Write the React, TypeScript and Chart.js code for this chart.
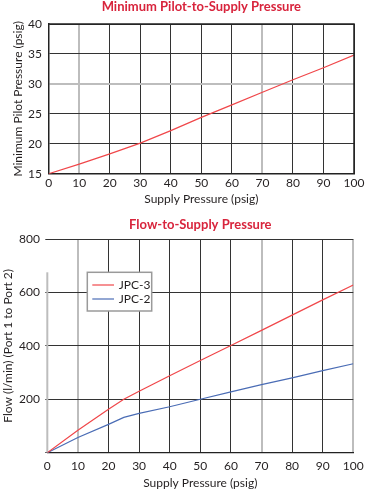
import React, { useEffect, useRef } from "react";
import { Chart, registerables } from "chart.js";
Chart.register(...registerables);

// ---- data ----
const supplyPressure = [0, 10, 20, 30, 40, 50, 60, 70, 80, 90, 100];
const minPilotPressure = [15, 16.6, 18.3, 20.1, 22.2, 24.4, 26.5, 28.6, 30.7, 32.7, 34.8];
const flowSupply = [0, 10, 20, 25, 30, 40, 50, 60, 70, 80, 90, 100];
const flowJPC3 = [0, 84, 163, 200, 230, 288, 345, 401, 458, 515, 572, 628];
const flowJPC2 = [0, 57, 106, 132, 147, 172, 200, 228, 255, 280, 307, 333];
const seriesLabels = ["JPC-3", "JPC-2"];
const topTitle = "Minimum Pilot-to-Supply Pressure";
const bottomTitle = "Flow-to-Supply Pressure";
const xAxisTitle = "Supply Pressure (psig)";
const topYTitle = "Minimum Pilot Pressure (psig)";
const bottomYTitle = "Flow (l/min) (Port 1 to Port 2)";
const topGrayX = [10, 70];
const topGrayY = [30];
const bottomGrayX = [10, 70, 100];

const FONT = "Lato, 'Open Sans', sans-serif";
const RED_TITLE = "#d8243c";
const RED = "#f0474a";
const BLUE = "#4a6cb5";
const DARK = "#333333";
const GRAY = "#bdbdbd";
const TEXT = "#231f20";

Chart.defaults.font.family = FONT;
Chart.defaults.color = TEXT;

const legendPlugin = {
  id: "boxLegend",
  afterDatasetsDraw(chart: any) {
    const { ctx, chartArea } = chart;
    const x0 = chartArea.left + 40;
    const y0 = chartArea.top + 33.3;
    const w = 64.4;
    const h = 38.7;
    ctx.save();
    ctx.fillStyle = "#fff";
    ctx.fillRect(x0, y0, w, h);
    ctx.strokeStyle = "#9a9a9a";
    ctx.lineWidth = 1.5;
    ctx.strokeRect(x0, y0, w, h);
    chart.data.datasets.forEach((ds: any, i: number) => {
      const y = y0 + 12.7 + i * 14;
      ctx.strokeStyle = ds.borderColor;
      ctx.lineWidth = 1.2;
      ctx.beginPath();
      ctx.moveTo(x0 + 5, y);
      ctx.lineTo(x0 + 26.7, y);
      ctx.stroke();
      ctx.fillStyle = TEXT;
      ctx.font = `12px ${FONT}`;
      ctx.textBaseline = "middle";
      ctx.textAlign = "left";
      ctx.fillText(ds.label, x0 + 31.5, y);
    });
    ctx.restore();
  },
};

const partialAxisPlugin = {
  id: "partialAxis",
  beforeDatasetsDraw(chart: any) {
    const { ctx, scales } = chart;
    const x = scales.x.getPixelForValue(0);
    const yTop = chart.chartArea.top + 33.3;
    const yBottom = scales.y.getPixelForValue(0);
    ctx.save();
    ctx.strokeStyle = GRAY;
    ctx.lineWidth = 2;
    ctx.beginPath();
    ctx.moveTo(x, yTop);
    ctx.lineTo(x, yBottom);
    ctx.stroke();
    ctx.restore();
  },
};

function TopChart() {
  const ref = useRef<HTMLCanvasElement>(null);
  useEffect(() => {
    const chart = new Chart(ref.current!, {
      type: "line",
      data: {
        datasets: [
          {
            label: "Minimum Pilot Pressure",
            data: supplyPressure.map((x, i) => ({ x, y: minPilotPressure[i] })),
            borderColor: RED,
            borderWidth: 1.2,
            pointRadius: 0,
            fill: false,
          },
        ],
      },
      options: {
        animation: false,
        responsive: false,
        devicePixelRatio: 1,
        layout: { padding: { left: 0, right: 16, top: 0, bottom: 0 } },
        plugins: {
          legend: { display: false },
          tooltip: { enabled: false },
          title: {
            display: true,
            text: topTitle,
            color: RED_TITLE,
            fullSize: false,
            font: { size: 13, weight: "bold", lineHeight: 1 },
            padding: { top: 0, bottom: 11 },
          },
        },
        scales: {
          x: {
            type: "linear",
            min: 0,
            max: 100,
            afterFit: (s: any) => {
              s.height = 31.3;
            },
            ticks: { stepSize: 10, padding: 2, font: { size: 12 }, color: TEXT, maxRotation: 0 },
            grid: {
              drawTicks: false,
              color: (c: any) => (c.tick && topGrayX.includes(c.tick.value) ? GRAY : DARK),
              lineWidth: (c: any) => (c.tick && topGrayX.includes(c.tick.value) ? 2 : 1),
            },
            border: { display: true, color: "#222", width: 1.5 },
            title: {
              display: true,
              text: xAxisTitle,
              font: { size: 12, lineHeight: 1 },
              padding: { top: 0, bottom: 0 },
              color: TEXT,
            },
          },
          y: {
            min: 15,
            max: 40,
            afterFit: (s: any) => {
              s.width = 48.7;
            },
            ticks: { stepSize: 5, padding: 6.7, font: { size: 12 }, color: TEXT },
            grid: {
              drawTicks: false,
              color: (c: any) => (c.tick && topGrayY.includes(c.tick.value) ? GRAY : DARK),
              lineWidth: (c: any) => (c.tick && topGrayY.includes(c.tick.value) ? 2 : 1),
            },
            border: { display: true, color: "#222", width: 1.5 },
            title: {
              display: true,
              text: topYTitle,
              font: { size: 12 },
              padding: { top: 10.8, bottom: 0 },
              color: TEXT,
            },
          },
        },
      },
      plugins: [
        {
          id: "topBorder",
          afterDraw(chart: any) {
            const { ctx, chartArea } = chart;
            ctx.save();
            ctx.strokeStyle = "#222";
            ctx.lineWidth = 1.5;
            ctx.beginPath();
            ctx.moveTo(chartArea.left, chartArea.top);
            ctx.lineTo(chartArea.right, chartArea.top);
            ctx.lineTo(chartArea.right, chartArea.bottom);
            ctx.stroke();
            ctx.restore();
          },
        },
      ],
    } as any);
    return () => chart.destroy();
  }, []);
  return <canvas ref={ref} width={370} height={205} style={{ display: "block" }} />;
}

function BottomChart() {
  const ref = useRef<HTMLCanvasElement>(null);
  useEffect(() => {
    const chart = new Chart(ref.current!, {
      type: "line",
      data: {
        datasets: [
          {
            label: seriesLabels[0],
            data: flowSupply.map((x, i) => ({ x, y: flowJPC3[i] })),
            borderColor: RED,
            borderWidth: 1.2,
            pointRadius: 0,
            fill: false,
          },
          {
            label: seriesLabels[1],
            data: flowSupply.map((x, i) => ({ x, y: flowJPC2[i] })),
            borderColor: BLUE,
            borderWidth: 1.2,
            pointRadius: 0,
            fill: false,
          },
        ],
      },
      options: {
        animation: false,
        responsive: false,
        devicePixelRatio: 1,
        layout: { padding: { left: 0, right: 16.7, top: 0, bottom: 0 } },
        plugins: {
          legend: { display: false },
          tooltip: { enabled: false },
          title: {
            display: true,
            text: bottomTitle,
            color: RED_TITLE,
            fullSize: false,
            font: { size: 13, weight: "bold", lineHeight: 1 },
            padding: { top: 13.2, bottom: 7.8 },
          },
        },
        scales: {
          x: {
            type: "linear",
            min: 0,
            max: 100,
            afterFit: (s: any) => {
              s.height = 37.3;
            },
            ticks: { stepSize: 10, padding: 6, font: { size: 12 }, color: TEXT, maxRotation: 0 },
            grid: {
              drawTicks: false,
              color: (c: any) =>
                c.tick && c.tick.value === 0
                  ? "rgba(0,0,0,0)"
                  : c.tick && bottomGrayX.includes(c.tick.value)
                  ? GRAY
                  : DARK,
              lineWidth: (c: any) => (c.tick && bottomGrayX.includes(c.tick.value) ? 2 : 1),
            },
            border: { display: true, color: "#222", width: 1.2 },
            title: {
              display: true,
              text: xAxisTitle,
              font: { size: 12, lineHeight: 1 },
              padding: { top: 0, bottom: 1.3 },
              color: TEXT,
            },
          },
          y: {
            min: 0,
            max: 800,
            afterFit: (s: any) => {
              s.width = 47.3;
            },
            ticks: {
              stepSize: 200,
              padding: 5.3,
              font: { size: 12 },
              color: TEXT,
              callback: (v: any) => (v === 0 ? "" : String(v)),
            },
            grid: {
              drawTicks: true,
              tickLength: 2,
              color: (c: any) => (c.tick && c.tick.value === 0 ? "#222" : DARK),
              lineWidth: 1,
            },
            border: { display: false },
            title: {
              display: true,
              text: bottomYTitle,
              font: { size: 12 },
              padding: { top: 0.8, bottom: 0 },
              color: TEXT,
            },
          },
        },
      },
      plugins: [partialAxisPlugin, legendPlugin],
    } as any);
    return () => chart.destroy();
  }, []);
  return <canvas ref={ref} width={370} height={285} style={{ display: "block" }} />;
}

export default function App() {
  return (
    <div
      style={{
        position: "absolute",
        left: 0,
        top: 0,
        width: 370,
        height: 490,
        background: "#fff",
      }}
    >
      <TopChart />
      <BottomChart />
    </div>
  );
}
